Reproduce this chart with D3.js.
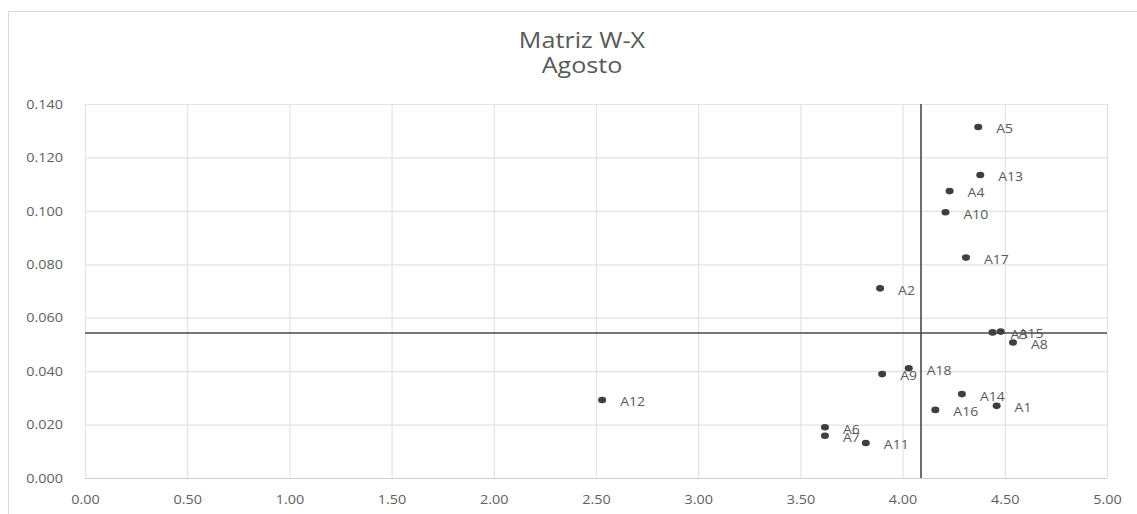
<!DOCTYPE html>
<html>
<head>
<meta charset="utf-8">
<script src="https://cdn.jsdelivr.net/npm/d3@7"></script>
<style>
  html, body { margin: 0; padding: 0; background: #fff; }
  svg { display: block; }
  text { font-family: "Open Sans", "Liberation Sans", sans-serif; }
</style>
</head>
<body>
<svg id="chart" width="1137" height="514"></svg>
<script>
// Activity labels and their W (x) / X (y) scores for August
const labels = ["A1","A2","A3","A4","A5","A6","A7","A8","A9","A10","A11","A12","A13","A14","A15","A16","A17","A18"];
const xValues = [4.46, 3.89, 4.44, 4.23, 4.37, 3.62, 3.62, 4.54, 3.90, 4.21, 3.82, 2.53, 4.38, 4.29, 4.48, 4.16, 4.31, 4.03];
const yValues = [0.027, 0.071, 0.0545, 0.1074, 0.1314, 0.0190, 0.0158, 0.0507, 0.0389, 0.0995, 0.0131, 0.0292, 0.1134, 0.0314, 0.0548, 0.0255, 0.0825, 0.0411];

// Quadrant dividers
const xDivider = 4.09;
const yDivider = 0.0543;

const xTicks = [0, 0.5, 1, 1.5, 2, 2.5, 3, 3.5, 4, 4.5, 5];
const yTicks = [0, 0.02, 0.04, 0.06, 0.08, 0.10, 0.12, 0.14];

const titleLines = ["Matriz W-X", "Agosto"];

// Text is drawn slightly widened horizontally
const stretch = 1.2;

const svg = d3.select("#chart");

// Chart frame
svg.append("rect")
  .attr("x", 8.5).attr("y", 11.5)
  .attr("width", 1140).attr("height", 510)
  .attr("fill", "#fff").attr("stroke", "#d9d9d9");

const x = d3.scaleLinear().domain([0, 5]).range([85, 1107]);
const y = d3.scaleLinear().domain([0, 0.14]).range([478, 104]);

// Gridlines
svg.append("g").selectAll("line").data(xTicks).join("line")
  .attr("x1", d => x(d) + 0.5).attr("x2", d => x(d) + 0.5)
  .attr("y1", y(0.14)).attr("y2", y(0))
  .attr("stroke", "#e3e3e3").attr("stroke-width", 1.2);
svg.append("g").selectAll("line").data(yTicks).join("line")
  .attr("x1", x(0)).attr("x2", x(5))
  .attr("y1", d => y(d) + 0.5).attr("y2", d => y(d) + 0.5)
  .attr("stroke", "#e3e3e3").attr("stroke-width", 1.2);

// Bottom axis line
svg.append("line")
  .attr("x1", x(0)).attr("x2", x(5))
  .attr("y1", y(0) + 0.5).attr("y2", y(0) + 0.5)
  .attr("stroke", "#d0d0d0").attr("stroke-width", 1.2);

// Axes (labels only)
const xAxis = d3.axisBottom(x).tickValues(xTicks).tickFormat(d3.format(".2f")).tickSize(0);
const yAxis = d3.axisLeft(y).tickValues(yTicks).tickFormat(d3.format(".3f")).tickSize(0);

const gx = svg.append("g").attr("transform", `translate(0,${y(0)})`).call(xAxis);
const gy = svg.append("g").attr("transform", `translate(${x(0)},0)`).call(yAxis);
[gx, gy].forEach(g => {
  g.select(".domain").remove();
  g.selectAll("text")
    .attr("fill", "#606060")
    .style("font-size", "12px")
    .style("font-family", "\"Open Sans\", \"Liberation Sans\", sans-serif");
});
gx.selectAll("text")
  .attr("y", 0).attr("dy", null)
  .attr("transform", `translate(0,26) scale(${stretch},1)`);
gy.selectAll("text")
  .attr("x", 0).attr("dy", "0.35em")
  .attr("transform", `translate(-22,0) scale(${stretch},1)`);

// Quadrant divider lines
svg.append("line")
  .attr("x1", x(xDivider)).attr("x2", x(xDivider))
  .attr("y1", y(0.14)).attr("y2", y(0))
  .attr("stroke", "#4a4a4a").attr("stroke-width", 1.6);
svg.append("line")
  .attr("x1", x(0)).attr("x2", x(5))
  .attr("y1", y(yDivider)).attr("y2", y(yDivider))
  .attr("stroke", "#4a4a4a").attr("stroke-width", 1.6);

// Points and their labels
const points = labels.map((name, i) => ({ name, xv: xValues[i], yv: yValues[i] }));

svg.append("g").selectAll("ellipse").data(points).join("ellipse")
  .attr("cx", d => x(d.xv)).attr("cy", d => y(d.yv))
  .attr("rx", 4).attr("ry", 3.3)
  .attr("fill", "#3f3f3f");

svg.append("g").selectAll("text").data(points).join("text")
  .attr("transform", d => `translate(${x(d.xv) + 18},${y(d.yv) + 2}) scale(1.12,1)`)
  .attr("dy", "0.35em")
  .attr("fill", "#595959")
  .style("font-size", "12.5px")
  .text(d => d.name);

// Title
svg.append("g").selectAll("text").data(titleLines).join("text")
  .attr("transform", (d, i) => `translate(582,${48 + i * 25}) scale(1.17,1)`)
  .attr("text-anchor", "middle")
  .attr("fill", "#595959")
  .style("font-size", "21.5px")
  .text(d => d);
</script>
</body>
</html>
